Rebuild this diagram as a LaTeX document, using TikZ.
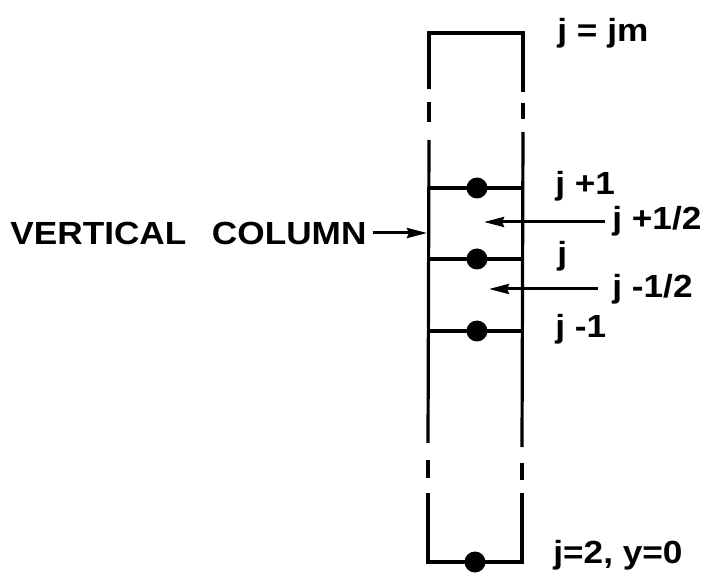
\documentclass[tikz,border=0pt]{standalone}
\usepackage{fontspec}
\setmainfont{Liberation Sans}[FakeStretch=1.1]
\usetikzlibrary{arrows.meta}

\begin{document}
\begin{tikzpicture}[
    x=0.5pt, y=-0.5pt,
    wall/.style={line width=1.6pt},
    rung/.style={line width=1.6pt},
    lbl/.style={anchor=base west, inner sep=0pt, font=\fontsize{16}{19}\selectfont\bfseries},
    dotnode/.style={circle, fill=black, inner sep=0pt, minimum size=10.5pt},
    arr/.style={-{Stealth[length=10pt, width=5pt, inset=1pt]}, line width=1.5pt},
]
\useasboundingbox (0,0) rectangle (707,577);

% column walls
\draw[wall] (429,89) |- (523,33) -- (523,92);
\draw[wall] (429,102) -- (429,122);
\draw[wall] (523,103) -- (523,119);
\draw[wall] (429,140) -- (428,443);
\draw[wall] (523,132) -- (522,447);
\draw[wall] (428,460) -- (428,478);
\draw[wall] (522,463) -- (522,480);
\draw[wall] (428,493) |- (522,562) -- (522,493);

% levels
\draw[rung] (429,188) -- (523,188);
\draw[rung] (429,259) -- (523,259);
\draw[rung] (428,331) -- (522,331);

\node[dotnode] (dotjp) at (477,188) {};
\node[dotnode] (dotj) at (477,259) {};
\node[dotnode] (dotjm) at (477,331) {};
\node[dotnode] (dotbot) at (475,562) {};

% labels
\node[lbl] (ltop) at (557,42) {j = jm};
\node[lbl] (ljp) at (555,195) {j +1};
\node[lbl] (ljph) at (612,230) {j +1/2};
\node[lbl] (lj) at (557,265) {j};
\node[lbl] (ljmh) at (612,298) {j -1/2};
\node[lbl] (ljm) at (555,337) {j -1};
\node[lbl] (lbot) at (553,563) {j=2, y=0};
\node[lbl] (lcol) at (10,245) {VERTICAL\hspace{0.8em}COLUMN};

% pointers
\coordinate (tipcol) at (427,233);
\coordinate (tipph) at (484,222);
\coordinate (tipmh) at (489,289);
\draw[arr, shorten <=3pt] (lcol.east |- tipcol) -- (tipcol);
\draw[arr, shorten <=3.5pt] (ljph.west |- tipph) -- (tipph);
\draw[arr, shorten <=7pt] (ljmh.west |- tipmh) -- (tipmh);

\end{tikzpicture}
\end{document}
